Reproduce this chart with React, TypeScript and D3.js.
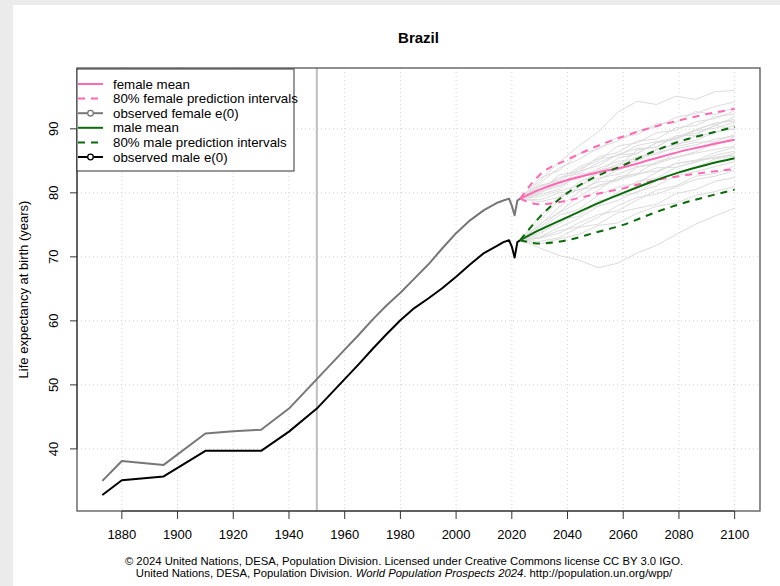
import * as d3 from "d3";

// observed e(0), Brazil
const obsYears = [1873, 1880, 1895, 1910, 1920, 1930, 1940, 1950, 1955, 1960, 1965, 1970, 1975, 1980, 1985, 1990, 1995, 2000, 2005, 2010, 2015, 2017, 2019, 2020, 2021, 2022, 2023];
const obsFemale = [35.0, 38.1, 37.5, 42.4, 42.75, 43.0, 46.3, 50.9, 53.2, 55.5, 57.8, 60.2, 62.4, 64.4, 66.6, 68.8, 71.3, 73.7, 75.7, 77.3, 78.5, 78.8, 79.1, 78.0, 76.5, 78.8, 79.1];
const obsMale = [32.8, 35.1, 35.7, 39.7, 39.7, 39.7, 42.7, 46.3, 48.6, 50.9, 53.2, 55.6, 57.9, 60.1, 62.0, 63.5, 65.1, 66.9, 68.8, 70.6, 71.8, 72.3, 72.6, 71.6, 69.9, 72.3, 72.6];

// projections
const projYears = [2023, 2030, 2040, 2050, 2060, 2070, 2080, 2090, 2100];
const femaleMean = [79.1, 80.5, 82.0, 83.1, 84.0, 85.2, 86.4, 87.4, 88.3];
const femaleUpper = [79.1, 82.8, 85.2, 87.2, 88.8, 90.2, 91.3, 92.3, 93.1];
const femaleLower = [79.1, 78.2, 78.8, 79.8, 80.7, 81.8, 82.6, 83.2, 83.7];
const maleMean = [72.6, 74.2, 76.2, 78.2, 80.0, 81.7, 83.2, 84.4, 85.4];
const maleUpper = [72.6, 76.2, 80.0, 82.5, 84.3, 86.3, 88.0, 89.2, 90.3];
const maleLower = [72.6, 72.1, 72.6, 73.8, 75.0, 76.7, 78.2, 79.4, 80.5];

// trajectories
const trajYears = [2023, 2030, 2037, 2044, 2051, 2058, 2065, 2072, 2079, 2086, 2093, 2100];
const femaleTraj = [
  [79.1, 81.5, 83.9, 85.2, 87.0, 88.1, 89.6, 90.3, 91.8, 92.4, 93.5, 94.2],
  [79.1, 80.2, 81.0, 82.6, 83.1, 84.5, 85.0, 86.3, 86.9, 87.5, 88.4, 88.9],
  [79.1, 79.4, 80.3, 81.1, 82.3, 82.9, 84.1, 84.6, 85.5, 86.2, 86.8, 87.3],
  [79.1, 81.9, 84.8, 87.3, 89.5, 92.6, 94.3, 93.8, 95.1, 94.6, 95.8, 96.0],
  [79.1, 80.8, 82.4, 83.0, 84.7, 85.9, 86.2, 87.8, 88.5, 89.7, 90.1, 91.0],
  [79.1, 78.6, 79.3, 80.5, 80.9, 82.2, 83.0, 83.4, 84.6, 85.1, 85.4, 86.2],
  [79.1, 81.0, 82.1, 84.0, 85.3, 85.8, 87.4, 88.0, 88.6, 89.9, 90.8, 91.5],
  [79.1, 79.9, 81.6, 82.2, 83.8, 84.9, 85.3, 86.8, 87.6, 88.2, 89.5, 90.0],
  [79.1, 80.5, 81.2, 83.4, 84.2, 86.0, 86.9, 87.1, 88.9, 89.0, 90.6, 89.8],
  [79.1, 78.9, 80.0, 80.4, 81.7, 82.0, 82.8, 83.9, 84.0, 84.8, 85.6, 85.9],
  [79.1, 82.3, 83.5, 86.1, 86.8, 88.7, 89.1, 90.8, 91.0, 92.7, 92.2, 93.4],
  [79.1, 80.1, 82.8, 83.3, 85.6, 86.3, 88.1, 88.4, 90.2, 90.5, 91.9, 92.3],
  [79.1, 79.7, 80.6, 82.9, 83.4, 83.8, 85.7, 86.0, 87.2, 87.9, 88.0, 89.1],
  [79.1, 81.2, 81.8, 83.7, 85.0, 87.3, 87.8, 89.4, 89.8, 91.1, 91.6, 92.8],
];
const maleTraj = [
  [72.6, 74.9, 77.8, 80.1, 82.0, 83.6, 85.2, 86.8, 87.5, 88.9, 89.4, 90.6],
  [72.6, 73.1, 74.6, 76.0, 77.9, 78.8, 80.2, 81.1, 82.7, 83.3, 84.1, 84.9],
  [72.6, 72.0, 72.8, 73.5, 74.9, 75.3, 76.8, 77.9, 78.4, 79.6, 80.2, 81.0],
  [72.6, 74.2, 76.5, 77.4, 79.6, 80.9, 81.5, 83.2, 84.6, 85.0, 86.3, 87.1],
  [72.6, 71.4, 70.2, 69.5, 68.3, 69.0, 70.6, 71.8, 73.5, 75.1, 76.4, 77.6],
  [72.6, 75.6, 78.9, 81.7, 83.0, 85.4, 86.1, 87.9, 88.3, 89.8, 90.9, 91.2],
  [72.6, 73.8, 75.2, 77.1, 78.0, 80.1, 81.8, 82.3, 84.0, 84.8, 85.9, 86.5],
  [72.6, 72.9, 73.7, 75.3, 76.6, 77.2, 78.9, 80.4, 81.1, 82.6, 83.0, 84.2],
  [72.6, 74.6, 76.9, 78.5, 80.4, 82.5, 83.0, 84.9, 85.6, 86.4, 87.8, 88.3],
  [72.6, 72.4, 73.0, 74.6, 75.1, 76.9, 77.6, 78.2, 79.9, 80.5, 81.8, 82.4],
  [72.6, 75.1, 77.0, 79.4, 81.2, 81.9, 84.0, 84.5, 86.2, 87.1, 87.4, 88.8],
  [72.6, 73.5, 75.8, 76.3, 78.7, 79.5, 80.0, 81.9, 83.1, 83.9, 85.3, 85.7],
  [72.6, 73.0, 74.1, 74.7, 76.2, 78.0, 79.3, 79.8, 80.9, 82.1, 82.6, 83.5],
  [72.6, 76.3, 79.5, 80.8, 83.6, 84.1, 86.7, 87.2, 88.9, 89.3, 90.5, 91.9],
];

const xTicks = [1880, 1900, 1920, 1940, 1960, 1980, 2000, 2020, 2040, 2060, 2080, 2100];
const yTicks = [40, 50, 60, 70, 80, 90];

const legendItems = [
  { label: "female mean", color: "#ff69b4", dash: null, dot: false },
  { label: "80% female prediction intervals", color: "#ff69b4", dash: "7,6", dot: false },
  { label: "observed female e(0)", color: "#777777", dash: null, dot: true },
  { label: "male mean", color: "#0a6b0a", dash: null, dot: false },
  { label: "80% male prediction intervals", color: "#0a6b0a", dash: "7,6", dot: false },
  { label: "observed male e(0)", color: "#000000", dash: null, dot: true },
];

const FONT = "'Liberation Sans', Arial, Helvetica, sans-serif";

export default function App() {
  const width = 780;
  const height = 586;
  const left = 77, right = 760, top = 68, bottom = 511;

  const x = d3.scaleLinear().domain([1863.9, 2109.1]).range([left, right]);
  const y = d3.scaleLinear().domain([30.3, 99.5]).range([bottom, top]);

  const line = (years: number[], vals: number[], curve = d3.curveLinear) =>
    d3.line<number>().x((_, i) => x(years[i])).y((d) => y(d)).curve(curve)(vals) || "";

  const smooth = d3.curveMonotoneX;

  return (
    <svg width={width} height={height} style={{ position: "absolute", left: 0, top: 0, fontFamily: FONT }}>
      <rect x={0} y={0} width={width} height={height} fill="#ebebeb" />
      <rect x={13} y={5} width={width - 13} height={height - 5} fill="#ffffff" />

      {/* grid */}
      <g stroke="#d3d3d3" strokeWidth={1} strokeDasharray="1,3">
        {xTicks.map((t) => (
          <line key={"gx" + t} x1={x(t)} x2={x(t)} y1={top} y2={bottom} />
        ))}
        {yTicks.map((t) => (
          <line key={"gy" + t} x1={left} x2={right} y1={y(t)} y2={y(t)} />
        ))}
      </g>

      {/* 1950 marker */}
      <line x1={x(1950)} x2={x(1950)} y1={top} y2={bottom} stroke="#bebebe" strokeWidth={2} />

      {/* trajectories */}
      <g fill="none" stroke="#dcdcdc" strokeWidth={1}>
        {femaleTraj.map((t, i) => (
          <path key={"ft" + i} d={line(trajYears, t)} />
        ))}
        {maleTraj.map((t, i) => (
          <path key={"mt" + i} d={line(trajYears, t)} />
        ))}
      </g>

      {/* observed */}
      <path d={line(obsYears, obsFemale)} fill="none" stroke="#777777" strokeWidth={2} strokeLinejoin="round" />
      <path d={line(obsYears, obsMale)} fill="none" stroke="#000000" strokeWidth={2} strokeLinejoin="round" />

      {/* projections */}
      <path d={line(projYears, femaleUpper, smooth)} fill="none" stroke="#ff69b4" strokeWidth={2} strokeDasharray="7,6" />
      <path d={line(projYears, femaleLower, smooth)} fill="none" stroke="#ff69b4" strokeWidth={2} strokeDasharray="7,6" />
      <path d={line(projYears, femaleMean, smooth)} fill="none" stroke="#ff69b4" strokeWidth={2} />
      <path d={line(projYears, maleUpper, smooth)} fill="none" stroke="#0a6b0a" strokeWidth={2} strokeDasharray="7,6" />
      <path d={line(projYears, maleLower, smooth)} fill="none" stroke="#0a6b0a" strokeWidth={2} strokeDasharray="7,6" />
      <path d={line(projYears, maleMean, smooth)} fill="none" stroke="#0a6b0a" strokeWidth={2} />

      {/* box */}
      <rect x={left} y={top} width={right - left} height={bottom - top} fill="none" stroke="#555555" strokeWidth={1.3} />

      {/* x axis */}
      <g stroke="#333333" strokeWidth={1}>
        <line x1={x(xTicks[0])} x2={x(xTicks[xTicks.length - 1])} y1={bottom} y2={bottom} />
        {xTicks.map((t) => (
          <line key={"xt" + t} x1={x(t)} x2={x(t)} y1={bottom} y2={bottom + 8} />
        ))}
      </g>
      {xTicks.map((t) => (
        <text key={"xl" + t} x={x(t)} y={539} fontSize={13} textAnchor="middle" fill="#000">
          {t}
        </text>
      ))}

      {/* y axis */}
      <g stroke="#333333" strokeWidth={1}>
        <line x1={left} x2={left} y1={y(yTicks[0])} y2={y(yTicks[yTicks.length - 1])} />
        {yTicks.map((t) => (
          <line key={"yt" + t} x1={left - 7} x2={left} y1={y(t)} y2={y(t)} />
        ))}
      </g>
      {yTicks.map((t) => (
        <text key={"yl" + t} transform={`translate(58,${y(t)}) rotate(-90)`} fontSize={13} textAnchor="middle" fill="#000">
          {t}
        </text>
      ))}
      <text transform={`translate(28,${(top + bottom) / 2}) rotate(-90)`} fontSize={13} textAnchor="middle" fill="#000">
        Life expectancy at birth (years)
      </text>

      {/* title */}
      <text x={(left + right) / 2} y={42.5} fontSize={15} fontWeight="bold" textAnchor="middle" fill="#000">
        Brazil
      </text>

      {/* legend */}
      <g>
        <rect x={77} y={69} width={217} height={102} fill="#ffffff" stroke="#333333" strokeWidth={1} />
        {legendItems.map((it, i) => {
          const cy = 84 + i * 14.6;
          return (
            <g key={it.label}>
              <line x1={78} x2={103} y1={cy} y2={cy} stroke={it.color} strokeWidth={2} strokeDasharray={it.dash || undefined} />
              {it.dot && <circle cx={90.5} cy={cy} r={2.8} fill="#fff" stroke={it.color} strokeWidth={1.3} />}
              <text x={113} y={cy + 4.6} fontSize={13.3} fill="#000">
                {it.label}
              </text>
            </g>
          );
        })}
      </g>

      {/* footnote */}
      <text x={404} y={565} fontSize={11.3} textAnchor="middle" fill="#000">
        © 2024 United Nations, DESA, Population Division. Licensed under Creative Commons license CC BY 3.0 IGO.
      </text>
      <text x={404} y={577} fontSize={11.3} textAnchor="middle" fill="#000">
        United Nations, DESA, Population Division. <tspan fontStyle="italic">World Population Prospects 2024</tspan>. http://population.un.org/wpp/
      </text>
    </svg>
  );
}
